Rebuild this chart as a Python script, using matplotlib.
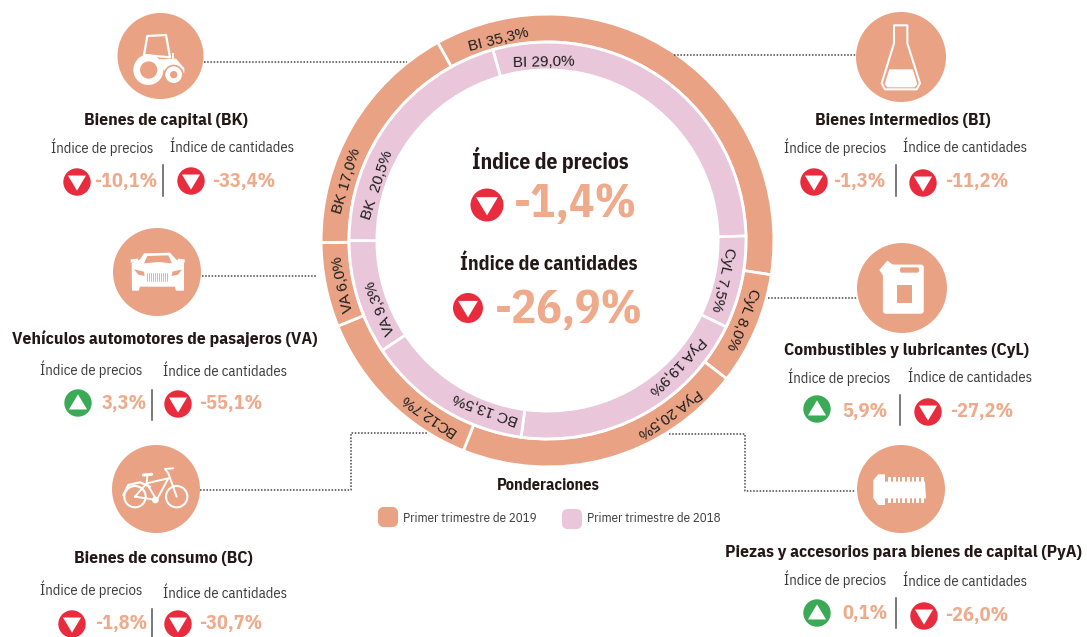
import matplotlib
matplotlib.use('Agg')
import matplotlib.pyplot as plt
from matplotlib.patches import Circle, Polygon, FancyBboxPatch, Rectangle
import numpy as np

# ponderaciones (orden horario desde BI)
outer_names = ['BI', 'CyL', 'PyA', 'BC', 'VA', 'BK']
outer_values = [35.3, 8.0, 20.5, 12.7, 6.0, 17.0]
inner_names = ['BI', 'CyL', 'PyA', 'BC', 'VA', 'BK']
inner_values = [29.0, 7.5, 19.9, 13.5, 9.3, 20.5]

# variaciones de cada grupo
group_titles = ['Bienes de capital (BK)', 'Vehículos automotores de pasajeros (VA)',
                'Bienes de consumo (BC)', 'Bienes intermedios (BI)',
                'Combustibles y lubricantes (CyL)',
                'Piezas y accesorios para bienes de capital (PyA)']
group_precios = [-10.1, 3.3, -1.8, -1.3, 5.9, 0.1]
group_cantidades = [-33.4, -55.1, -30.7, -11.2, -27.2, -26.0]
total_precios = -1.4
total_cantidades = -26.9

legend_labels = ['Primer trimestre de 2019', 'Primer trimestre de 2018']

SALMON = '#E9A384'
PINK = '#E9C6DA'
RED = '#E82C3E'
GREEN = '#3BAA57'
VALUE = '#EEAA8A'
DARK = '#231815'
GREY = '#3A3A3A'
NARROW = ['IBM Plex Sans Condensed', 'Liberation Sans Narrow', 'Liberation Sans', 'DejaVu Sans']
WIDE = ['Liberation Sans', 'DejaVu Sans']
H = 637
CX, CY = 547.5, 240.5


def fmt(v):
    return f'{v:.1f}'.replace('.', ',') + '%'


def py(y):
    return H - y


fig = plt.figure(figsize=(10.87, 6.37), dpi=100)
ax = fig.add_axes([0, 0, 1, 1])

# anillos
ax.pie(outer_values, radius=226.4, center=(CX, py(CY)), startangle=119, counterclock=False,
       colors=[SALMON] * 6, wedgeprops=dict(width=27.8, edgecolor='white', linewidth=2))
ax.pie(inner_values, radius=198.4, center=(CX, py(CY)), startangle=106, counterclock=False,
       colors=[PINK] * 6, wedgeprops=dict(width=27.8, edgecolor='white', linewidth=2))
ax.set_xlim(0, 1087)
ax.set_ylim(0, H)
ax.set_aspect('equal')
ax.axis('off')

# etiquetas de los anillos: angulo horario desde arriba y radio
outer_pos = [(-13.8, 207), (111.8, 210), (144.7, 211), (214.5, 211), (258, 209), (286.5, 209)]
inner_pos = [(-1.3, 178), (102.6, 180), (134, 180), (200.3, 179), (248, 180), (288.2, 179)]


def ring_labels(names, values, pos):
    for name, val, (ang, r) in zip(names, values, pos):
        if name == 'BK' and val == 20.5:
            txt = f'{name}  {fmt(val)}'
        else:
            txt = f'{name} {fmt(val)}'
        if name == 'BC' and val == 12.7:
            txt = f'{name}{fmt(val)}'
        a = np.radians(ang)
        ax.text(CX + r * np.sin(a), py(CY - r * np.cos(a)), txt, rotation=-ang,
                rotation_mode='anchor', ha='center', va='center',
                fontsize=11, family=WIDE, color='#1c1c1c', zorder=5)


ring_labels(outer_names, outer_values, outer_pos)
ring_labels(inner_names, inner_values, inner_pos)


def marker(x, y, up, r=13.7):
    ax.add_patch(Circle((x, py(y)), r, fc=GREEN if up else RED, ec='none', zorder=4))
    w, h = r * 0.66, r * 1.05
    if up:
        pts = [(x - w, y + h * 0.45), (x + w, y + h * 0.45), (x, y - h * 0.6)]
    else:
        pts = [(x - w, y - h * 0.45), (x + w, y - h * 0.45), (x, y + h * 0.6)]
    ax.add_patch(Polygon([(a, py(b)) for a, b in pts], fc='white', ec='none', zorder=5))


# centro
ax.text(550, py(160), 'Índice de precios', ha='center', va='center', fontsize=15.5,
        weight='bold', family=NARROW, color=DARK)
ax.text(549, py(264), 'Índice de cantidades', ha='center', va='center', fontsize=14.3,
        weight='bold', family=NARROW, color=DARK)
marker(487, 205, total_precios > 0, r=16.5)
marker(468, 308, total_cantidades > 0, r=15)
ax.text(576, py(205), fmt(total_precios), ha='center', va='center', fontsize=34,
        weight='bold', family=NARROW, color=VALUE)
ax.text(569, py(311), fmt(total_cantidades), ha='center', va='center', fontsize=33.8,
        weight='bold', family=NARROW, color=VALUE)

# bloques: titulo, subtitulos, marcadores, valores, separador
title_pos = [(165.5, 121), (165, 339), (163, 558), (903, 121), (907, 350), (903, 553)]
sub_pos = [(102, 147, 232, 147), (91, 370, 225, 370), (91, 589, 225, 592),
           (835, 147, 965, 147), (839, 377, 970, 377), (835, 580, 965, 580)]
left_pos = [(77, 182, 126, 181), (78, 403, 124, 404), (72, 624, 121, 624),
            (814, 182, 859, 181), (817, 409, 865, 412), (817, 613, 865, 614)]
right_pos = [(191, 181, 244, 181), (178, 404, 231, 404), (178, 624, 231, 624),
             (923, 183, 977, 181), (928, 412, 982, 412), (924, 616, 977, 615)]
sep_pos = [(163, 165, 196), (152, 390, 420), (152, 609, 637),
           (896, 165, 196), (900, 395, 425), (896, 598, 628)]

for i, title in enumerate(group_titles):
    ax.text(title_pos[i][0], py(title_pos[i][1]), title, ha='center', va='center',
            fontsize=12.6, weight='bold', family=NARROW, color=DARK)
    s = sub_pos[i]
    ax.text(s[0], py(s[1] + 5.5), 'Índice de precios', ha='center', va='baseline',
            fontsize=10.5, family=NARROW, color=GREY)
    ax.text(s[2], py(s[3] + 5.5), 'Índice de cantidades', ha='center', va='baseline',
            fontsize=10.5, family=NARROW, color=GREY)
    for v, p in ((group_precios[i], left_pos[i]), (group_cantidades[i], right_pos[i])):
        marker(p[0], p[1], v > 0)
        ax.text(p[2], py(p[3]), fmt(v), ha='center', va='center', fontsize=14.5,
                weight='bold', family=NARROW, color=VALUE)
    x, y0, y1 = sep_pos[i]
    ax.plot([x, x], [py(y0), py(y1)], color='#555555', lw=1.1)

# circulos de los iconos y lineas punteadas
icon_pos = [(160.5, 56, 43), (157, 272, 44), (156, 489, 44), (901, 57, 45), (902, 288, 45), (901, 489, 44)]
for x, y, r in icon_pos:
    ax.add_patch(Circle((x, py(y)), r, fc=SALMON, ec='none', zorder=2))

dotted = [[(204, 62), (407, 62)],
          [(202, 276), (317, 276)],
          [(200, 490), (351, 490), (351, 433), (427, 433)],
          [(674, 55), (856, 55)],
          [(768, 298), (857, 298)],
          [(669, 434), (745, 434), (745, 491), (855, 491)]]
for line in dotted:
    ax.plot([p[0] for p in line], [py(p[1]) for p in line], color='#444444', lw=1.1,
            ls=(0, (1, 1.1)), zorder=1)


# dibujo de los iconos, coordenadas en pixeles de la imagen ampliada x3
def zp(ox, oy, pts):
    return [(ox + a / 3, py(oy + b / 3)) for a, b in pts]


def shape(ox, oy, pts, fc='white', ec='none', lw=0, closed=True):
    ax.add_patch(Polygon(zp(ox, oy, pts), closed=closed, fc=fc, ec=ec, lw=lw, zorder=3,
                         joinstyle='round'))


def disc(ox, oy, x, y, r, fc='white'):
    ax.add_patch(Circle((ox + x / 3, py(oy + y / 3)), r / 3, fc=fc, ec='none', zorder=3))


def stroke(ox, oy, pts, lw=1.4, color='white'):
    q = zp(ox, oy, pts)
    ax.plot([p[0] for p in q], [p[1] for p in q], color=color, lw=lw, zorder=3,
            solid_capstyle='round')


# tractor
shape(0, 0, [(432, 165), (442, 108), (498, 105), (510, 172)], fc='none', ec='white', lw=1.6)
shape(0, 0, [(478, 178), (528, 176), (553, 205), (553, 218), (500, 220), (488, 205)])
shape(0, 0, [(515, 160), (521, 160), (521, 180), (515, 180)])
disc(0, 0, 445, 205, 42)
disc(0, 0, 445, 210, 45)
disc(0, 0, 446, 210, 26, SALMON)
disc(0, 0, 521, 224, 30, SALMON)
disc(0, 0, 521, 224, 25)
disc(0, 0, 521, 224, 11, SALMON)

# auto
shape(0, 0, [(395, 790), (420, 778), (432, 760), (510, 758), (528, 778), (552, 788), (552, 872),
             (528, 872), (525, 860), (420, 860), (416, 872), (396, 872)])
shape(0, 0, [(432, 790), (442, 768), (505, 766), (516, 790), (475, 786)], fc=SALMON)
shape(0, 0, [(402, 808), (432, 815), (434, 828), (415, 824)], fc=SALMON)
shape(0, 0, [(546, 808), (517, 815), (515, 828), (534, 824)], fc=SALMON)
for xg in range(442, 506, 6):
    stroke(0, 0, [(xg, 820), (xg, 842)], lw=0.6, color=SALMON)
shape(0, 0, [(392, 778), (414, 776), (414, 786), (392, 788)])
shape(0, 0, [(534, 776), (554, 778), (554, 788), (534, 786)])

# bici
bx, by = 0, 320
for xw in (405, 530):
    ax.add_patch(Circle((bx + xw / 3, py(by + 530 / 3)), 32 / 3, fc='none', ec='white', lw=1.5, zorder=3))
stroke(bx, by, [(370, 525), (385, 495), (420, 487), (450, 500)], lw=1.6)
stroke(bx, by, [(405, 530), (440, 490), (505, 475), (470, 540), (405, 530)], lw=1.4)
stroke(bx, by, [(440, 490), (470, 540)], lw=1.4)
stroke(bx, by, [(530, 530), (505, 460), (495, 447), (520, 445)], lw=1.4)
stroke(bx, by, [(430, 465), (455, 463)], lw=2.2)
stroke(bx, by, [(442, 465), (440, 490)], lw=1.4)
disc(bx, by, 466, 540, 10)

# matraz
fx, fy = 770, 0
shape(fx, fy, [(372, 76), (412, 76), (412, 130), (450, 250), (440, 268), (345, 268), (335, 250), (372, 130)],
      fc='none', ec='white', lw=1.5)
shape(fx, fy, [(358, 208), (428, 208), (442, 252), (434, 262), (352, 262), (344, 252)])

# bidon
jx, jy = 720, 230
ax.add_patch(FancyBboxPatch((jx + 495 / 3, py(jy + 245 / 3)), 110 / 3, 135 / 3,
                            boxstyle='round,pad=0,rounding_size=1', fc='white', ec='white', lw=3, zorder=3))
shape(jx, jy, [(478, 120), (502, 92), (530, 112), (495, 145)])
ax.add_patch(FancyBboxPatch((jx + 540 / 3, py(jy + 128 / 3)), 57 / 3, 16 / 3,
                            boxstyle='round,pad=0,rounding_size=2', fc=SALMON, ec='none', zorder=3))
ax.add_patch(Rectangle((jx + 530 / 3, py(jy + 220 / 3)), 45 / 3, 55 / 3, fc=SALMON, ec='none', zorder=3))

# tornillo
sx, sy = 720, 230
shape(sx, sy, [(475, 733), (495, 733), (495, 825), (475, 825), (460, 805), (460, 750)])
shape(sx, sy, [(495, 755), (615, 755), (618, 805), (495, 805)])
for xs in range(505, 610, 14):
    shape(sx, sy, [(xs, 742), (xs + 8, 742), (xs + 8, 758), (xs, 758)])
    shape(sx, sy, [(xs, 802), (xs + 8, 802), (xs + 8, 818), (xs, 818)])

# leyenda
ax.text(548, py(486), 'Ponderaciones', ha='center', va='center', fontsize=11.8,
        weight='bold', family=NARROW, color=DARK)
for lx, tx, ly, col, lab in ((388, 403, 517, SALMON, legend_labels[0]),
                             (572, 587, 519, PINK, legend_labels[1])):
    ax.add_patch(FancyBboxPatch((lx - 8, py(ly + 8)), 16, 16, boxstyle='round,pad=0,rounding_size=4',
                                fc=col, ec=col, lw=3, zorder=3))
    ax.text(tx, py(518), lab, ha='left', va='center', fontsize=9.4, family=NARROW, color=GREY)

fig.savefig('out.png', dpi=100)
